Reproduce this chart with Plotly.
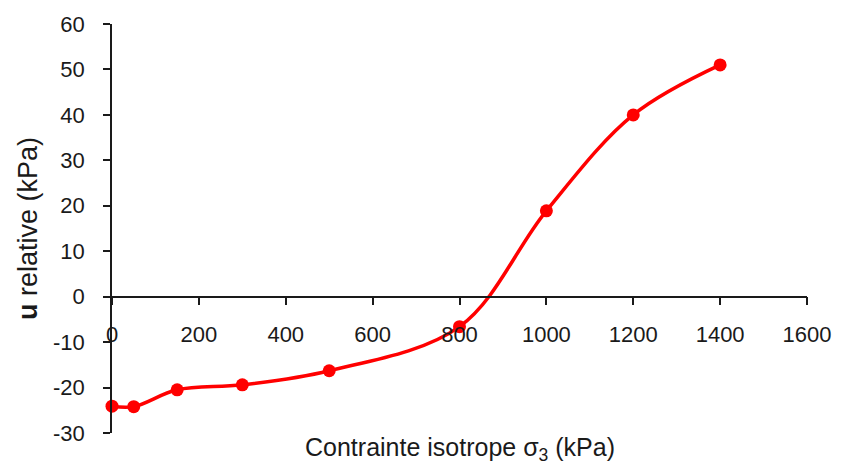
import plotly.graph_objects as go

# Isotropic confining stress sigma_3 (kPa) and relative pore pressure u (kPa)
sigma3 = [0, 50, 150, 300, 500, 800, 1000, 1200, 1400]
u_rel = [-24.1, -24.2, -20.5, -19.4, -16.3, -6.6, 18.9, 40.0, 51.0]

x_ticks = [0, 200, 400, 600, 800, 1000, 1200, 1400, 1600]
y_ticks = [-30, -20, -10, 0, 10, 20, 30, 40, 50, 60]

FONT = "Liberation Sans, Arial, sans-serif"
INK = "#1a1a1a"
Y_MIN, Y_MAX = -30, 60

fig = go.Figure()
fig.add_trace(go.Scatter(
    x=sigma3, y=u_rel,
    mode="lines+markers",
    line=dict(color="#ff0000", width=3.5, shape="spline", smoothing=1.0),
    marker=dict(color="#ff0000", size=13),
    showlegend=False,
    cliponaxis=False,
))

fig.update_layout(
    width=843, height=466,
    margin=dict(l=112, r=32, t=23, b=33),
    paper_bgcolor="white", plot_bgcolor="white",
    font=dict(family=FONT, color=INK, size=22),
    xaxis=dict(
        range=[0, 1600],
        tickvals=x_ticks,
        ticktext=[str(v) for v in x_ticks],
        anchor="free",
        # the horizontal axis crosses the vertical one at u = 0
        position=(0 - Y_MIN) / (Y_MAX - Y_MIN),
        showline=True, linecolor=INK, linewidth=1.5,
        ticks="outside", ticklen=8, tickwidth=1.5, tickcolor=INK,
        ticklabelstandoff=10,
        showgrid=False, zeroline=False,
        tickfont=dict(size=22),
    ),
    yaxis=dict(
        range=[Y_MIN, Y_MAX],
        tickvals=y_ticks,
        ticktext=[str(v) for v in y_ticks],
        showline=True, linecolor=INK, linewidth=1.5,
        ticks="outside", ticklen=7, tickwidth=1.5, tickcolor=INK,
        ticklabelstandoff=14,
        showgrid=False, zeroline=False,
        tickfont=dict(size=22),
        title=dict(text="<b>u</b> relative (kPa)", font=dict(size=27), standoff=8),
    ),
    annotations=[
        dict(
            text="Contrainte isotrope σ<sub>3</sub> (kPa)",
            xref="paper", yref="paper", x=0.5, y=0,
            yshift=-16, xanchor="center", yanchor="middle",
            showarrow=False, font=dict(size=25),
        )
    ],
)

fig.write_html("out.html")
